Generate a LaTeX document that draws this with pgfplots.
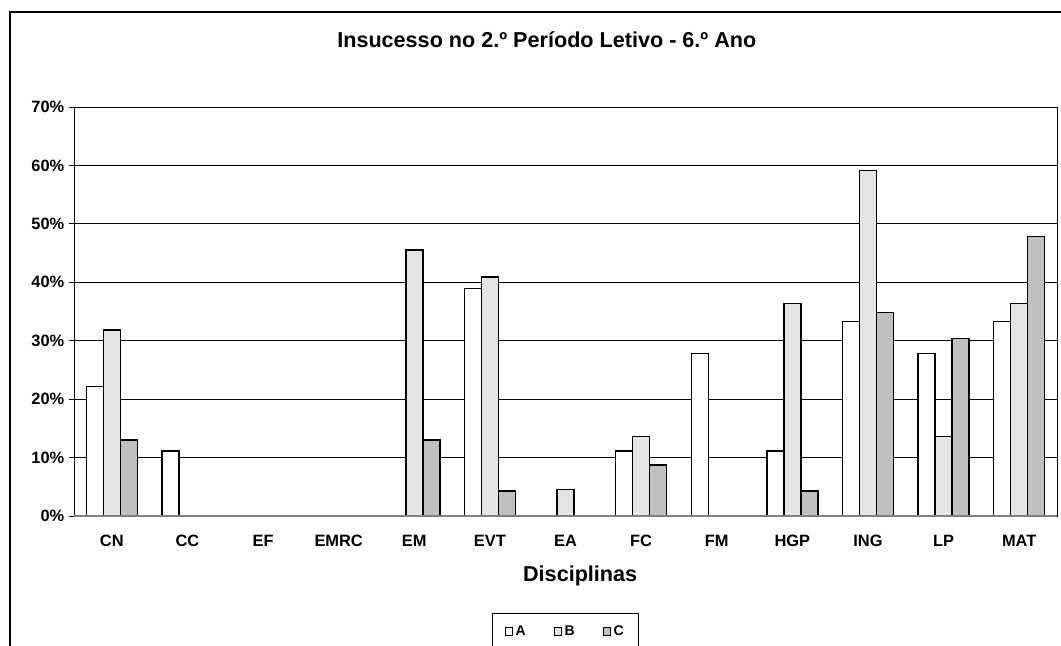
\documentclass[border=0pt]{standalone}
\usepackage{fontspec}
\setmainfont{Liberation Sans}
\usepackage{pgfplots}
\pgfplotsset{compat=1.18}

\definecolor{barB}{HTML}{E4E4E4}
\definecolor{barC}{HTML}{C0C0C0}
\definecolor{axgray}{HTML}{808080}

\begin{document}
\begin{tikzpicture}
% 1 px = 0.75pt
\clip (0,0) rectangle (795.75pt,484.5pt);
\draw[line width=0.9pt] (7.5pt,-20pt) rectangle (820pt,475.5pt);
\begin{axis}[
  at={(55.5pt,97.5pt)}, anchor=south west,
  scale only axis, width=737.25pt, height=306.75pt,
  xmin=-0.5, xmax=12.5, ymin=0, ymax=70,
  ybar=0pt, bar width=12.75pt,
  xtick={0,...,12},
  xticklabels={CN,CC,EF,EMRC,EM,EVT,EA,FC,FM,HGP,ING,LP,MAT},
  major x tick style={draw=none},
  extra x ticks={-0.5,0.5,...,12.5},
  extra x tick labels={},
  extra x tick style={grid=none, tick align=outside, major tick length=3.75pt, tick style={black, line width=0.6pt}},
  xtick pos=bottom, ytick pos=left,
  ytick={0,10,...,70},
  yticklabel={\textbf{\pgfmathprintnumber[assume math mode=true]{\tick}\%}},
  tick align=outside, major tick length=3.75pt,
  tick style={black, line width=0.6pt},
  ymajorgrids, grid style={black, line width=0.6pt},
  axis line style={black, line width=0.7pt},
  tick label style={font=\fontsize{12.3}{14}\selectfont\bfseries},
  xticklabel style={yshift=-7pt},
  title={Insucesso no 2.º Período Letivo - 6.º Ano},
  title style={font=\fontsize{16.2}{19}\selectfont\bfseries, at={(0.5,1)}, anchor=center, yshift=44.5pt, xshift=-14pt},
  xlabel={Disciplinas},
  xlabel style={font=\fontsize{16.2}{19}\selectfont\bfseries, at={(0.5,0)}, anchor=center, yshift=-45pt, xshift=11pt},
  legend style={at={(0.5,-0.237)}, anchor=north, legend columns=3,
    font=\fontsize{10.5}{12}\selectfont\bfseries, draw=black, line width=0.6pt,
    inner xsep=9pt, inner ysep=7pt,
    /tikz/every even column/.append style={column sep=19pt}},
  legend image code/.code={\draw[#1, line width=0.6pt] (0pt,-2.8pt) rectangle (5.6pt,2.8pt);},
  clip=false,
]
\addplot[draw=black, fill=white, line width=1.1pt] coordinates {
  (0,22.2) (1,11.1) (5,38.9) (7,11.1) (8,27.8) (9,11.1) (10,33.3) (11,27.8) (12,33.3)};
\addplot[draw=black, fill=barB, line width=1.1pt] coordinates {
  (0,31.8) (4,45.5) (5,40.9) (6,4.5) (7,13.6) (9,36.4) (10,59.1) (11,13.6) (12,36.4)};
\addplot[draw=black, fill=barC, line width=1.1pt] coordinates {
  (0,13.0) (4,13.0) (5,4.3) (7,8.7) (9,4.3) (10,34.8) (11,30.4) (12,47.8)};
\legend{A,B,C}
\draw[axgray, line width=1.5pt] (axis cs:-0.5,0) -- (axis cs:12.5,0);
\end{axis}
\end{tikzpicture}
\end{document}
